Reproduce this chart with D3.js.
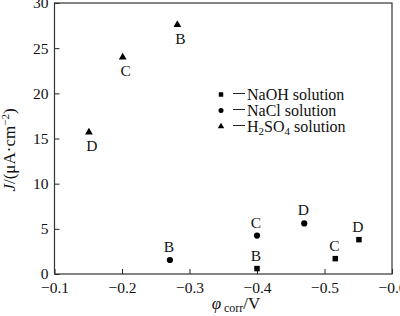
<!DOCTYPE html>
<html>
<head>
<meta charset="utf-8">
<script src="https://cdn.jsdelivr.net/npm/d3@7"></script>
<style>
	body { margin: 0; background: #fff; }
	svg text { font-family: "Liberation Serif", "Times New Roman", serif; fill: #111; }
</style>
</head>
<body>
<div id="chart"></div>
<script>
"use strict";

// Data
const xTicks = [-0.1, -0.2, -0.3, -0.4, -0.5, -0.6];
const yTicks = [0, 5, 10, 15, 20, 25, 30];

const naohPhi = [-0.400, -0.516, -0.551];
const naohJ = [0.6, 1.7, 3.8];
const naohLabels = ['B', 'C', 'D'];

const naclPhi = [-0.271, -0.400, -0.470];
const naclJ = [1.55, 4.25, 5.6];
const naclLabels = ['B', 'C', 'D'];

const h2so4Phi = [-0.282, -0.201, -0.151];
const h2so4J = [27.6, 24.0, 15.7];
const h2so4Labels = ['B', 'C', 'D'];

const width = 400, height = 316;
const margin = { left: 54.5, right: 8, top: 3, bottom: 42 };

const svg = d3.select('#chart').append('svg')
	.attr('width', width)
	.attr('height', height);

const x = d3.scaleLinear().domain([-0.1, -0.6]).range([margin.left, width - margin.right]);
const y = d3.scaleLinear().domain([0, 30]).range([height - margin.bottom, margin.top]);

// axes, ticks inward
const xAxis = svg.append('g')
	.attr('transform', `translate(0,${y(0)})`)
	.call(d3.axisBottom(x).tickValues(xTicks).tickSizeInner(-5).tickSizeOuter(0)
		.tickFormat(d => d3.format('.1f')(d).replace('-', '\u2212')));
xAxis.select('.domain').remove();
xAxis.selectAll('text').attr('y', 3).attr('dy', '1em').style('font-size', '15.5px');

const yAxis = svg.append('g')
	.attr('transform', `translate(${x(-0.1)},0)`)
	.call(d3.axisLeft(y).tickValues(yTicks).tickSizeInner(-5).tickSizeOuter(0));
yAxis.select('.domain').remove();
yAxis.selectAll('text').attr('x', -6).style('font-size', '15.5px');
svg.selectAll('.tick line').attr('stroke', '#222');

// frame
svg.append('rect')
	.attr('x', x(-0.1)).attr('y', y(30))
	.attr('width', x(-0.6) - x(-0.1))
	.attr('height', y(0) - y(30))
	.attr('fill', 'none')
	.attr('stroke', '#333')
	.attr('stroke-width', 1.2);

function series(phi, J, labels, symbol, size, labelDy)
{
	const pts = phi.map((p, i) => ({ phi: p, J: J[i], label: labels[i] }));
	const g = svg.append('g');
	g.selectAll('path')
		.data(pts)
		.join('path')
		.attr('d', d3.symbol().type(symbol).size(size))
		.attr('transform', d => `translate(${x(d.phi)},${y(d.J)})`)
		.attr('fill', '#000');
	g.selectAll('text')
		.data(pts)
		.join('text')
		.attr('x', d => x(d.phi) + (labelDy > 0 ? 3 : -1))
		.attr('y', d => y(d.J) + labelDy)
		.attr('text-anchor', 'middle')
		.style('font-size', '15.5px')
		.text(d => d.label);
}

series(naohPhi, naohJ, naohLabels, d3.symbolSquare, 30, -8);
series(naclPhi, naclJ, naclLabels, d3.symbolCircle, 30, -8);
series(h2so4Phi, h2so4J, h2so4Labels, d3.symbolTriangle, 26, 19);

// legend
const legend = svg.append('g');
const legendItems = [
	{ symbol: d3.symbolSquare, size: 20, name: 'NaOH solution' },
	{ symbol: d3.symbolCircle, size: 20, name: 'NaCl solution' },
	{ symbol: d3.symbolTriangle, size: 18, name: 'H2SO4' }
];
legendItems.forEach((item, i) => {
	const cy = 94.5 + i * 16;
	legend.append('path')
		.attr('d', d3.symbol().type(item.symbol).size(item.size))
		.attr('transform', `translate(221,${cy})`)
		.attr('fill', '#000');
	legend.append('line')
		.attr('x1', 233).attr('x2', 245)
		.attr('y1', cy - 1).attr('y2', cy - 1)
		.attr('stroke', '#222').attr('stroke-width', 1);
	const t = legend.append('text')
		.attr('x', 247)
		.attr('y', cy + 5)
		.style('font-size', '16px');
	if (i < 2)
		t.text(item.name);
	else
	{
		t.append('tspan').text('H');
		t.append('tspan').attr('dy', 3).style('font-size', '11px').text('2');
		t.append('tspan').attr('dy', -3).text('SO');
		t.append('tspan').attr('dy', 3).style('font-size', '11px').text('4');
		t.append('tspan').attr('dy', -3).text(' solution');
	}
});

// y label
const yl = svg.append('text')
	.attr('transform', 'translate(15,150) rotate(-90)')
	.attr('text-anchor', 'middle')
	.style('font-size', '17px');
yl.append('tspan').style('font-style', 'italic').text('J');
yl.append('tspan').text('/(\u03bcA\u00b7cm');
yl.append('tspan').attr('dy', -6).style('font-size', '11px').text('\u22122');
yl.append('tspan').attr('dy', 6).text(')');

// x label
const xl = svg.append('text')
	.attr('x', 236)
	.attr('y', 309)
	.attr('text-anchor', 'middle')
	.style('font-size', '17px');
xl.append('tspan').style('font-style', 'italic').text('\u03c6');
xl.append('tspan').attr('dy', 3).style('font-size', '12px').text(' corr');
xl.append('tspan').attr('dy', -3).text('/V');
</script>
</body>
</html>
